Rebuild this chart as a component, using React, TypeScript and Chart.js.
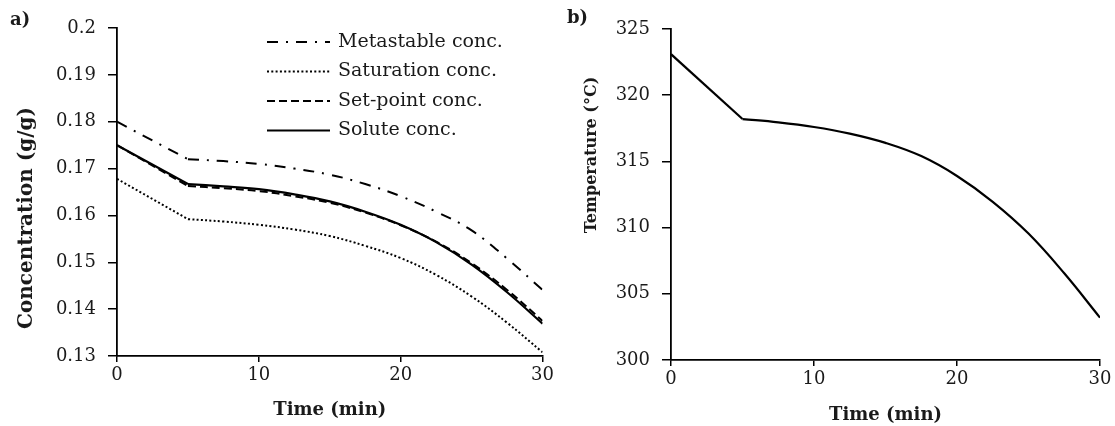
import React, { useEffect, useRef } from "react";
import { Chart, registerables } from "chart.js";

Chart.register(...registerables);

// ---------- data ----------
const timeMin = [0, 5, 7.5, 10, 12.5, 15, 17.5, 20, 22.5, 25, 27.5, 30];
const metastableConc = [0.18, 0.172, 0.1716, 0.171, 0.17, 0.1687, 0.1667, 0.1641, 0.1608, 0.1568, 0.1508, 0.1441];
const saturationConc = [0.1678, 0.1592, 0.1587, 0.158, 0.157, 0.1556, 0.1535, 0.1509, 0.1473, 0.1427, 0.1371, 0.1308];
const setPointConc = [0.175, 0.1663, 0.1658, 0.1652, 0.1641, 0.1627, 0.1606, 0.1579, 0.1544, 0.1498, 0.1441, 0.1375];
const soluteConc = [0.175, 0.1667, 0.1662, 0.1656, 0.1645, 0.163, 0.1608, 0.158, 0.1543, 0.1495, 0.1436, 0.1369];
const temperatureC = [323.1, 318.2, 317.95, 317.6, 317.1, 316.4, 315.4, 313.9, 311.95, 309.55, 306.55, 303.2];

const concTicks = [0.13, 0.14, 0.15, 0.16, 0.17, 0.18, 0.19, 0.2];
const tempTicks = [300, 305, 310, 315, 320, 325];
const timeTicks = [0, 10, 20, 30];

const seriesLabels = ["Metastable conc.", "Saturation conc.", "Set-point conc.", "Solute conc."];

// index where the linear cooling ramp ends and the curved profile begins
const KINK = 1;

// ---------- styling ----------
const SERIF = "'DejaVu Serif', 'Liberation Serif', serif";
const TEXT = "#1a1a1a";
Chart.defaults.font.family = SERIF;

const toXY = (ys: number[], from: number, to: number) =>
  ys.slice(from, to).map((y, i) => ({ x: timeMin[from + i], y }));

// each series = straight ramp segment + smooth curved segment
function seriesDatasets(label: string, ys: number[], style: any) {
  const base = {
    borderColor: "#000",
    borderWidth: style.borderWidth,
    borderDash: style.borderDash,
    pointRadius: 0,
    fill: false,
  };
  return [
    { ...base, label, legend: true, data: toXY(ys, 0, KINK + 1), tension: 0 },
    { ...base, label, legend: false, data: toXY(ys, KINK, ys.length), tension: 0.4 },
  ];
}

const textPlugin = {
  id: "panelTexts",
  afterDraw(chart: any, _args: any, opts: any) {
    const ctx = chart.ctx;
    for (const t of (opts && opts.items) || []) {
      ctx.save();
      ctx.font = t.font;
      ctx.fillStyle = t.color || TEXT;
      ctx.textAlign = t.align || "left";
      ctx.textBaseline = "middle";
      ctx.translate(t.x, t.y);
      if (t.rotate) ctx.rotate(t.rotate);
      ctx.fillText(t.text, 0, 0);
      ctx.restore();
    }
  },
};

const legendPlugin = {
  id: "innerLegend",
  afterDraw(chart: any, _args: any, opts: any) {
    if (!opts || !opts.display) return;
    const ctx = chart.ctx;
    const items = chart.data.datasets.filter((ds: any) => ds.legend);
    items.forEach((ds: any, row: number) => {
      const y = opts.y + row * opts.rowGap;
      ctx.save();
      ctx.strokeStyle = ds.borderColor;
      ctx.lineWidth = ds.borderWidth;
      ctx.setLineDash(ds.borderDash || []);
      ctx.beginPath();
      ctx.moveTo(opts.x, y);
      ctx.lineTo(opts.x + opts.lineLen, y);
      ctx.stroke();
      ctx.setLineDash([]);
      ctx.font = opts.font;
      ctx.fillStyle = TEXT;
      ctx.textAlign = "left";
      ctx.textBaseline = "middle";
      ctx.fillText(ds.label, opts.x + opts.lineLen + opts.gap, y);
      ctx.restore();
    });
  },
};

function axisCommon(tickLength: number) {
  return {
    grid: { display: true, drawOnChartArea: false, drawTicks: true, tickLength, color: "#000", lineWidth: 1.5 },
    border: { display: true, color: "#000", width: 1.8 },
  };
}

function configA(): any {
  const styles = [
    { borderDash: [11, 8, 2, 8], borderWidth: 2 },
    { borderDash: [2, 2.3], borderWidth: 2 },
    { borderDash: [8, 4], borderWidth: 2 },
    { borderDash: [], borderWidth: 2.2 },
  ];
  const series = [metastableConc, saturationConc, setPointConc, soluteConc];
  return {
    type: "line",
    data: {
      datasets: series.flatMap((s, i) => seriesDatasets(seriesLabels[i], s, styles[i])),
    },
    plugins: [textPlugin, legendPlugin],
    options: {
      responsive: false,
      animation: false,
      layout: { padding: { top: 28, right: 14, bottom: 0, left: 0 } },
      scales: {
        x: {
          type: "linear",
          min: 0,
          max: 30,
          afterBuildTicks: (s: any) => { s.ticks = timeTicks.map((value) => ({ value })); },
          afterFit: (s: any) => { s.height = 70; },
          ...axisCommon(6),
          ticks: { color: TEXT, font: { size: 18 }, padding: 3, maxRotation: 0, autoSkip: false },
          title: { display: true, text: "Time (min)", color: TEXT, font: { size: 18, weight: "bold" }, padding: { top: 0, bottom: 5 } },
        },
        y: {
          type: "linear",
          min: 0.13,
          max: 0.2,
          afterBuildTicks: (s: any) => { s.ticks = concTicks.map((value) => ({ value })); },
          afterFit: (s: any) => { s.width = 117; },
          ...axisCommon(9),
          ticks: { color: TEXT, font: { size: 18 }, padding: 12, callback: (v: any) => String(parseFloat(Number(v).toFixed(2))) },
        },
      },
      plugins: {
        legend: { display: false },
        tooltip: { enabled: false },
        innerLegend: { display: true, x: 267, y: 42, rowGap: 29.5, lineLen: 63, gap: 8, font: `19px ${SERIF}` },
        panelTexts: {
          items: [
            { text: "a)", x: 10, y: 20, font: `bold 18px ${SERIF}` },
            { text: "Concentration (g/g)", x: 27, y: 218, rotate: -Math.PI / 2, align: "center", font: `bold 20px ${SERIF}` },
          ],
        },
      },
    },
  };
}

function configB(): any {
  return {
    type: "line",
    data: {
      datasets: seriesDatasets("Temperature", temperatureC, { borderDash: [], borderWidth: 2.2 }),
    },
    plugins: [textPlugin],
    options: {
      responsive: false,
      animation: false,
      layout: { padding: { top: 29, right: 15, bottom: 0, left: 0 } },
      scales: {
        x: {
          type: "linear",
          min: 0,
          max: 30,
          afterBuildTicks: (s: any) => { s.ticks = timeTicks.map((value) => ({ value })); },
          afterFit: (s: any) => { s.height = 66; },
          ...axisCommon(6),
          ticks: { color: TEXT, font: { size: 18 }, padding: 3, maxRotation: 0, autoSkip: false },
          title: { display: true, text: "Time (min)", color: TEXT, font: { size: 18, weight: "bold" }, padding: { top: 0, bottom: 0 } },
        },
        y: {
          type: "linear",
          min: 300,
          max: 325,
          afterBuildTicks: (s: any) => { s.ticks = tempTicks.map((value) => ({ value })); },
          afterFit: (s: any) => { s.width = 114; },
          ...axisCommon(9),
          ticks: { color: TEXT, font: { size: 18 }, padding: 12 },
        },
      },
      plugins: {
        legend: { display: false },
        tooltip: { enabled: false },
        panelTexts: {
          items: [
            { text: "b)", x: 10, y: 18, font: `bold 18px ${SERIF}` },
            { text: "Temperature (°C)", x: 35, y: 155, rotate: -Math.PI / 2, align: "center", font: `bold 16px ${SERIF}` },
          ],
        },
      },
    },
  };
}

function ChartCanvas({ makeConfig, left, width, height }: { makeConfig: () => any; left: number; width: number; height: number }) {
  const ref = useRef<HTMLCanvasElement>(null);
  useEffect(() => {
    const chart = new Chart(ref.current as HTMLCanvasElement, makeConfig());
    return () => chart.destroy();
  }, [makeConfig]);
  return (
    <canvas
      ref={ref}
      width={width}
      height={height}
      style={{ position: "absolute", left, top: 0, width, height, display: "block" }}
    />
  );
}

export default function App() {
  return (
    <div style={{ position: "absolute", left: 0, top: 0, width: 1115, height: 426, background: "#fff" }}>
      <ChartCanvas makeConfig={configA} left={0} width={557} height={426} />
      <ChartCanvas makeConfig={configB} left={557} width={558} height={426} />
    </div>
  );
}
